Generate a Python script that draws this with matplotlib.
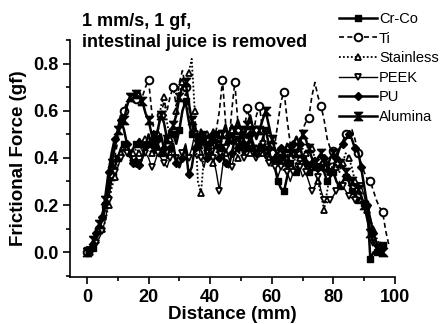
import numpy as np
import matplotlib
matplotlib.use("Agg")
import matplotlib.pyplot as plt
from matplotlib.ticker import MultipleLocator

series_names = ["Cr-Co", "Ti", "Stainless", "PEEK", "PU", "Alumina"]

cr_co = [0.01, 0.00, 0.02, 0.06, 0.10, 0.14, 0.20, 0.26, 0.32, 0.36, 0.40, 0.44, 0.46, 0.44, 0.42, 0.44,
         0.46, 0.48, 0.46, 0.44, 0.46, 0.48, 0.50, 0.46, 0.42, 0.44, 0.48, 0.52, 0.50, 0.46, 0.52, 0.60,
         0.64, 0.56, 0.50, 0.54, 0.48, 0.44, 0.50, 0.46, 0.42, 0.46, 0.50, 0.48, 0.44, 0.46, 0.50, 0.54,
         0.48, 0.44, 0.46, 0.42, 0.44, 0.48, 0.44, 0.40, 0.44, 0.48, 0.52, 0.46, 0.40, 0.36, 0.30, 0.27,
         0.26, 0.32, 0.38, 0.36, 0.34, 0.38, 0.40, 0.36, 0.34, 0.38, 0.36, 0.34, 0.36, 0.34, 0.30, 0.32,
         0.34, 0.30, 0.28, 0.30, 0.32, 0.30, 0.26, 0.24, 0.22, 0.21, 0.21, 0.20, -0.03, 0.00, 0.00, 0.01,
         0.03]

ti = [0.00, 0.01, 0.03, 0.06, 0.10, 0.14, 0.18, 0.26, 0.33, 0.40, 0.47, 0.55, 0.60, 0.64, 0.66, 0.67,
      0.65, 0.62, 0.66, 0.70, 0.73, 0.60, 0.48, 0.52, 0.58, 0.64, 0.60, 0.66, 0.70, 0.62, 0.72, 0.77,
      0.70, 0.62, 0.55, 0.48, 0.42, 0.50, 0.46, 0.40, 0.44, 0.48, 0.52, 0.60, 0.73, 0.55, 0.45, 0.60,
      0.72, 0.55, 0.46, 0.50, 0.61, 0.56, 0.50, 0.58, 0.62, 0.52, 0.44, 0.48, 0.42, 0.46, 0.55, 0.64,
      0.68, 0.56, 0.46, 0.40, 0.44, 0.47, 0.52, 0.55, 0.57, 0.66, 0.72, 0.66, 0.62, 0.56, 0.48, 0.44,
      0.43, 0.40, 0.44, 0.47, 0.50, 0.51, 0.52, 0.48, 0.42, 0.38, 0.34, 0.31, 0.30, 0.26, 0.22, 0.19,
      0.17, 0.09, 0.03]

stainless = [0.01, 0.00, 0.02, 0.05, 0.08, 0.10, 0.13, 0.20, 0.27, 0.32, 0.36, 0.42, 0.45, 0.44, 0.40, 0.42,
             0.44, 0.42, 0.45, 0.48, 0.44, 0.42, 0.45, 0.50, 0.62, 0.66, 0.55, 0.48, 0.50, 0.60, 0.68, 0.72,
             0.66, 0.76, 0.82, 0.60, 0.30, 0.25, 0.40, 0.50, 0.45, 0.38, 0.42, 0.48, 0.46, 0.42, 0.48, 0.52,
             0.46, 0.40, 0.44, 0.50, 0.48, 0.42, 0.46, 0.44, 0.40, 0.42, 0.46, 0.40, 0.36, 0.40, 0.44, 0.38,
             0.34, 0.40, 0.46, 0.42, 0.36, 0.40, 0.44, 0.42, 0.46, 0.44, 0.40, 0.30, 0.24, 0.18, 0.26, 0.34,
             0.38, 0.36, 0.34, 0.38, 0.42, 0.40, 0.36, 0.30, 0.26, 0.22, 0.20, 0.18, 0.14, 0.10, 0.06, 0.03,
             0.02]

peek = [0.00, 0.01, 0.02, 0.04, 0.06, 0.09, 0.14, 0.22, 0.30, 0.34, 0.36, 0.40, 0.44, 0.42, 0.40, 0.38,
        0.36, 0.38, 0.40, 0.42, 0.40, 0.36, 0.38, 0.42, 0.40, 0.38, 0.36, 0.40, 0.44, 0.40, 0.37, 0.42,
        0.46, 0.40, 0.44, 0.50, 0.46, 0.40, 0.36, 0.42, 0.46, 0.40, 0.34, 0.26, 0.36, 0.44, 0.40, 0.36,
        0.42, 0.46, 0.44, 0.40, 0.44, 0.48, 0.44, 0.40, 0.44, 0.46, 0.42, 0.38, 0.40, 0.36, 0.32, 0.36,
        0.40, 0.34, 0.30, 0.34, 0.38, 0.36, 0.32, 0.34, 0.30, 0.26, 0.28, 0.32, 0.26, 0.22, 0.21, 0.22,
        0.24, 0.26, 0.30, 0.28, 0.26, 0.24, 0.23, 0.22, 0.26, 0.28, 0.24, 0.18, 0.10, 0.04, 0.01, 0.00,
        0.00]

pu = [0.02, 0.01, 0.03, 0.08, 0.12, 0.15, 0.24, 0.34, 0.42, 0.48, 0.50, 0.56, 0.52, 0.46, 0.42, 0.38,
      0.40, 0.37, 0.40, 0.45, 0.50, 0.46, 0.42, 0.48, 0.50, 0.44, 0.40, 0.44, 0.46, 0.38, 0.36, 0.40,
      0.45, 0.33, 0.36, 0.44, 0.48, 0.50, 0.46, 0.40, 0.44, 0.50, 0.46, 0.40, 0.42, 0.38, 0.36, 0.42,
      0.48, 0.44, 0.50, 0.46, 0.44, 0.50, 0.46, 0.42, 0.46, 0.44, 0.40, 0.44, 0.38, 0.40, 0.42, 0.44,
      0.40, 0.38, 0.42, 0.46, 0.49, 0.46, 0.40, 0.38, 0.36, 0.38, 0.40, 0.36, 0.38, 0.40, 0.38, 0.34,
      0.36, 0.40, 0.44, 0.46, 0.48, 0.50, 0.48, 0.44, 0.43, 0.36, 0.28, 0.20, 0.14, 0.08, 0.04, 0.02,
      0.01]

alumina = [0.00, 0.02, 0.05, 0.09, 0.12, 0.16, 0.22, 0.30, 0.38, 0.44, 0.52, 0.58, 0.56, 0.62, 0.66, 0.67,
           0.67, 0.68, 0.64, 0.59, 0.56, 0.50, 0.46, 0.52, 0.58, 0.55, 0.48, 0.50, 0.54, 0.58, 0.66, 0.70,
           0.72, 0.64, 0.56, 0.50, 0.46, 0.52, 0.48, 0.44, 0.48, 0.52, 0.46, 0.44, 0.50, 0.54, 0.48, 0.46,
           0.52, 0.56, 0.52, 0.48, 0.54, 0.58, 0.52, 0.48, 0.52, 0.56, 0.60, 0.54, 0.48, 0.44, 0.40, 0.38,
           0.42, 0.46, 0.44, 0.40, 0.42, 0.46, 0.50, 0.48, 0.44, 0.40, 0.38, 0.40, 0.42, 0.38, 0.36, 0.40,
           0.42, 0.40, 0.38, 0.36, 0.34, 0.32, 0.30, 0.28, 0.27, 0.24, 0.20, 0.14, 0.08, 0.04, 0.02, 0.01,
           0.00]

all_series = [cr_co, ti, stainless, peek, pu, alumina]

x_ticks = [0, 20, 40, 60, 80, 100]
y_ticks = [0.0, 0.2, 0.4, 0.6, 0.8]

hourglass = [(-1, 1), (1, 1), (0, 0), (1, -1), (-1, -1), (0, 0), (-1, 1)]
styles = [
    dict(ls="-", lw=1.8, marker="s", mfc="black", ms=4.5, markevery=(0, 2)),
    dict(ls=(0, (3, 2)), lw=1.2, marker="o", mfc="white", ms=5.5, mew=1.4, markevery=(0, 4)),
    dict(ls=(0, (1, 1.2)), lw=1.3, marker="^", mfc="white", ms=5, mew=1.3, markevery=(1, 2)),
    dict(ls="-", lw=1.0, marker="v", mfc="white", ms=5, mew=1.3, markevery=(1, 2)),
    dict(ls="-", lw=1.8, marker="D", mfc="black", ms=4.5, markevery=(1, 2)),
    dict(ls="-", lw=1.8, marker=hourglass, mfc="black", ms=6, markevery=(0, 2)),
]

plt.rcParams["font.family"] = ["Liberation Sans", "DejaVu Sans"]

fig = plt.figure(figsize=(4.4, 3.24), dpi=100)
ax = fig.add_axes([70 / 440, 1 - 277 / 324, 325 / 440, 237 / 324])

for name, vals, st in zip(series_names, all_series, styles):
    xs = np.arange(len(vals))
    ax.plot(xs, vals, color="black", mec="black", label=name, **st)

ax.set_xlim(-5.5, 100)
ax.set_ylim(-0.105, 0.9)
ax.set_xticks(x_ticks)
ax.set_yticks(y_ticks)
ax.set_yticklabels([f"{v:.1f}" for v in y_ticks])
ax.xaxis.set_minor_locator(MultipleLocator(10))
ax.yaxis.set_minor_locator(MultipleLocator(0.1))
for s in ["top", "right"]:
    ax.spines[s].set_visible(False)
for s in ["left", "bottom"]:
    ax.spines[s].set_linewidth(1.2)
ax.tick_params(which="major", direction="out", length=5, width=1.2, labelsize=13)
ax.tick_params(which="minor", direction="out", length=3, width=1.2)
for lab in ax.get_xticklabels() + ax.get_yticklabels():
    lab.set_fontweight("bold")

ax.set_xlabel("Distance (mm)", fontsize=13.5, fontweight="bold", labelpad=0)
ax.set_ylabel("Frictional Force (gf)", fontsize=13.5, fontweight="bold", labelpad=4)

fig.text(82 / 440, 1 - 13 / 324, "1 mm/s, 1 gf,\nintestinal juice is removed",
         fontsize=13, fontweight="bold", va="top", ha="left", linespacing=1.3)

leg = fig.legend(loc="upper left", bbox_to_anchor=(339 / 440, 1 - 12 / 324), frameon=False,
                 fontsize=10.5, handlelength=2.6, handletextpad=0.15, labelspacing=0.38,
                 borderaxespad=0, borderpad=0, markerscale=1.0)
for t in leg.get_texts():
    t.set_family(["Liberation Sans Narrow", "Liberation Sans", "DejaVu Sans"])

fig.savefig("out.png", dpi=100)
